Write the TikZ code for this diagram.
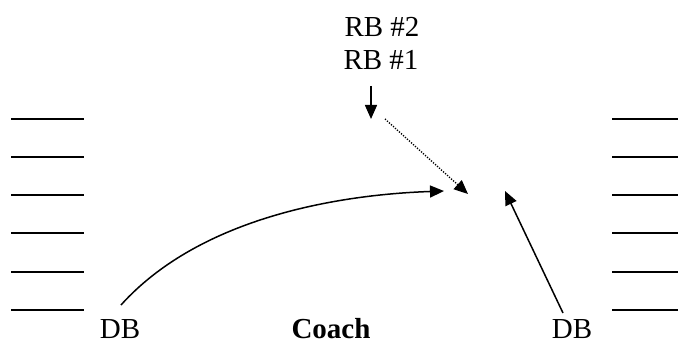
\documentclass[tikz,border=0pt]{standalone}
\usepackage{fontspec}
\setmainfont{Liberation Serif}
\usetikzlibrary{arrows.meta}
\begin{document}
\begin{tikzpicture}[x=1pt,y=-1pt,font=\fontsize{29}{34}\selectfont,line join=round,>={Triangle[length=14pt,width=12pt]}]
	\useasboundingbox (0,0) rectangle (678,345);
	% yard lines on both sides
	\foreach \y in {119,157,195,233,272,310}
		\draw[line width=2pt] (11,\y)--(84,\y) (612,\y)--(678,\y);
	\node[anchor=base] (rbtwo) at (382,37) {RB \#2};
	\node[anchor=base] (rbone) at (381,70) {RB \#1};
	\node[anchor=base] (dbl) at (120,338) {DB};
	\node[anchor=base] (coach) at (331,338) {\textbf{Coach}};
	\node[anchor=base] (dbr) at (572,338) {DB};
	\coordinate (rbstart) at (371,86);\coordinate (rbstop) at (371,119);
	\coordinate (rbrun) at (385,119);\coordinate (hole) at (468,194);
	\coordinate (dbla) at (121,305);\coordinate (catch) at (444,191);
	\coordinate (dbra) at (563,313);\coordinate (cover) at (505,191);
	\draw[->,line width=1.5pt] (rbstart)--(rbstop);
	\draw[->,line width=1.4pt,dash pattern=on 1.2pt off 1.5pt] (rbrun)--(hole);
	\draw[->,line width=1.5pt] (dbla) to[out=48,in=182,looseness=0.85] (catch);
	\draw[->,line width=1.5pt] (dbra)--(cover);
\end{tikzpicture}
\end{document}
